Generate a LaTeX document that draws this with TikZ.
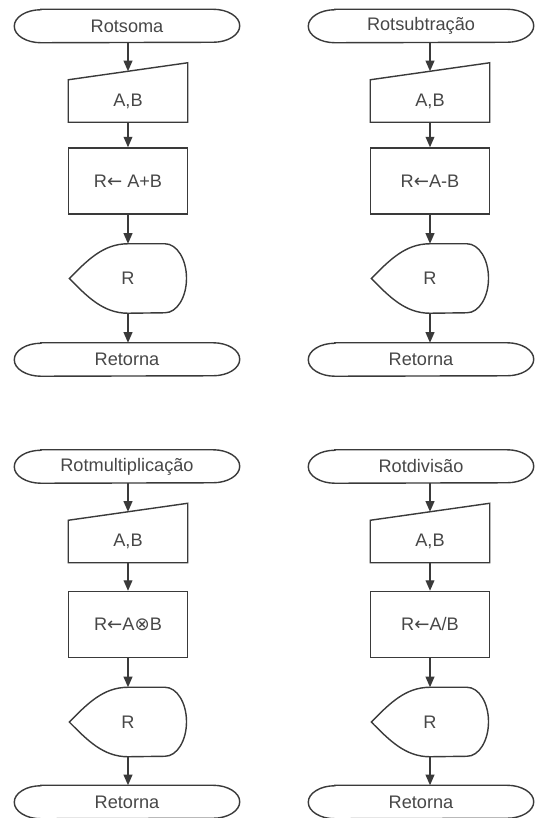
\documentclass[tikz,border=0pt]{standalone}
\usepackage{fontspec}
\setmainfont{Liberation Sans}
\newfontfamily\symfont{DejaVu Sans}
\usepackage{tikz}
\usetikzlibrary{arrows.meta}
\definecolor{InkGray}{HTML}{3A3A3A}
\definecolor{TextGray}{HTML}{474747}

\begin{document}
\begin{tikzpicture}[
  x=0.03cm, y=-0.03cm,
  font=\fontsize{15.5}{18}\selectfont,
  text=TextGray,
  % terminal (start / return), outline drawn below
  term/.style={minimum width=6.75cm, minimum height=0.99cm, inner sep=0pt},
  % manual input, rectangular part only
  entr/.style={minimum width=3.57cm, minimum height=1.26cm, inner sep=0pt},
  % process box
  proc/.style={draw=InkGray, line width=1.2pt, minimum width=3.57cm,
               minimum height=1.98cm, inner sep=0pt},
  % display, outline drawn below
  disp/.style={minimum width=3.51cm, minimum height=2.07cm, inner sep=0pt},
  outl/.style={draw=InkGray, line width=1.2pt},
  seta/.style={draw=InkGray, line width=1.2pt,
               -{Triangle[length=9pt,width=7.5pt]}},
]
\useasboundingbox (0,0) rectangle (534,818);

% ── Column x-positions ───────────────────────────────────────────────────
\def\xL{128}   % left boxes centre x
\def\xR{430}   % right boxes centre x
\def\tL{127}   % left terminals centre x
\def\tR{421}   % right terminals centre x

% ── Row y-positions (top half / bottom half) ─────────────────────────────
\def\yIni{26}   \def\yEnt{101}  \def\yProc{181}  \def\ySai{278.5}  \def\yFim{359.5}
\def\zIni{466.5}\def\zEnt{541.5}\def\zProc{624.5}\def\zSai{722}    \def\zFim{802}

%% ── Soma ─────────────────────────────────────────────────────────────────
\node[term] (iniSoma)  at (\tL, \yIni)  {Rotsoma};
\node[entr] (entSoma)  at (\xL, \yEnt)  {A,B};
\node[proc] (procSoma) at (\xL, \yProc) {R{\symfont←} A+B};
\node[disp] (saiSoma)  at (\xL, \ySai)  {R};
\node[term] (fimSoma)  at (\tL, \yFim)  {Retorna};

%% ── Subtração ───────────────────────────────────────────────────────────
\node[term] (iniSub)  at (\tR, \yIni)  {Rotsubtração};
\node[entr] (entSub)  at (\xR, \yEnt)  {A,B};
\node[proc] (procSub) at (\xR, \yProc) {R{\symfont←}A-B};
\node[disp] (saiSub)  at (\xR, \ySai)  {R};
\node[term] (fimSub)  at (\tR, \yFim)  {Retorna};

%% ── Multiplicação ───────────────────────────────────────────────────────
\node[term] (iniMult)  at (\tL, \zIni)  {Rotmultiplicação};
\node[entr] (entMult)  at (\xL, \zEnt)  {A,B};
\node[proc] (procMult) at (\xL, \zProc) {R{\symfont←}A{\symfont⊗}B};
\node[disp] (saiMult)  at (\xL, \zSai)  {R};
\node[term] (fimMult)  at (\tL, \zFim)  {Retorna};

%% ── Divisão ─────────────────────────────────────────────────────────────
\node[term] (iniDiv)  at (\tR, \zIni)  {Rotdivisão};
\node[entr] (entDiv)  at (\xR, \zEnt)  {A,B};
\node[proc] (procDiv) at (\xR, \zProc) {R{\symfont←}A/B};
\node[disp] (saiDiv)  at (\xR, \zSai)  {R};
\node[term] (fimDiv)  at (\tR, \zFim)  {Retorna};

%% ── Terminal outlines ───────────────────────────────────────────────────
\foreach \n in {iniSoma,fimSoma,iniSub,fimSub,iniMult,fimMult,iniDiv,fimDiv}{
  \draw[outl] ([xshift=0.8cm]\n.north west) -- ([xshift=-0.8cm]\n.north east)
    arc[start angle=90, end angle=-90, x radius=0.8cm, y radius=0.495cm]
    -- ([xshift=0.8cm]\n.south west)
    arc[start angle=270, end angle=90, x radius=0.8cm, y radius=0.495cm] -- cycle;
}
%% ── Manual input outlines ───────────────────────────────────────────────
\foreach \n in {entSoma,entSub,entMult,entDiv}{
  \draw[outl] (\n.north west) -- ([yshift=0.51cm]\n.north east)
    -- (\n.south east) -- (\n.south west) -- cycle;
}
%% ── Display outlines ────────────────────────────────────────────────────
\foreach \n in {saiSoma,saiSub,saiMult,saiDiv}{
  \draw[outl] (\n.west)
    .. controls ([shift={(0.54cm,0.54cm)}]\n.west) and ([xshift=-0.75cm]\n.north) .. (\n.north)
    -- ([xshift=1.11cm]\n.north)
    arc[start angle=90, end angle=-90, x radius=0.645cm, y radius=1.035cm]
    -- (\n.south)
    .. controls ([xshift=-0.75cm]\n.south) and ([shift={(0.54cm,-0.54cm)}]\n.west) .. (\n.west)
    -- cycle;
}
%% ── Connectors ──────────────────────────────────────────────────────────
\foreach \r in {Soma,Sub,Mult,Div}{
  \draw[seta] (ini\r.south -| ent\r.north) -- ([yshift=0.255cm]ent\r.north);
  \draw[seta] (ent\r) -- (proc\r);
  \draw[seta] (proc\r) -- (sai\r);
  \draw[seta] (sai\r.south) -- (fim\r.north -| sai\r.south);
}

\end{tikzpicture}
\end{document}
